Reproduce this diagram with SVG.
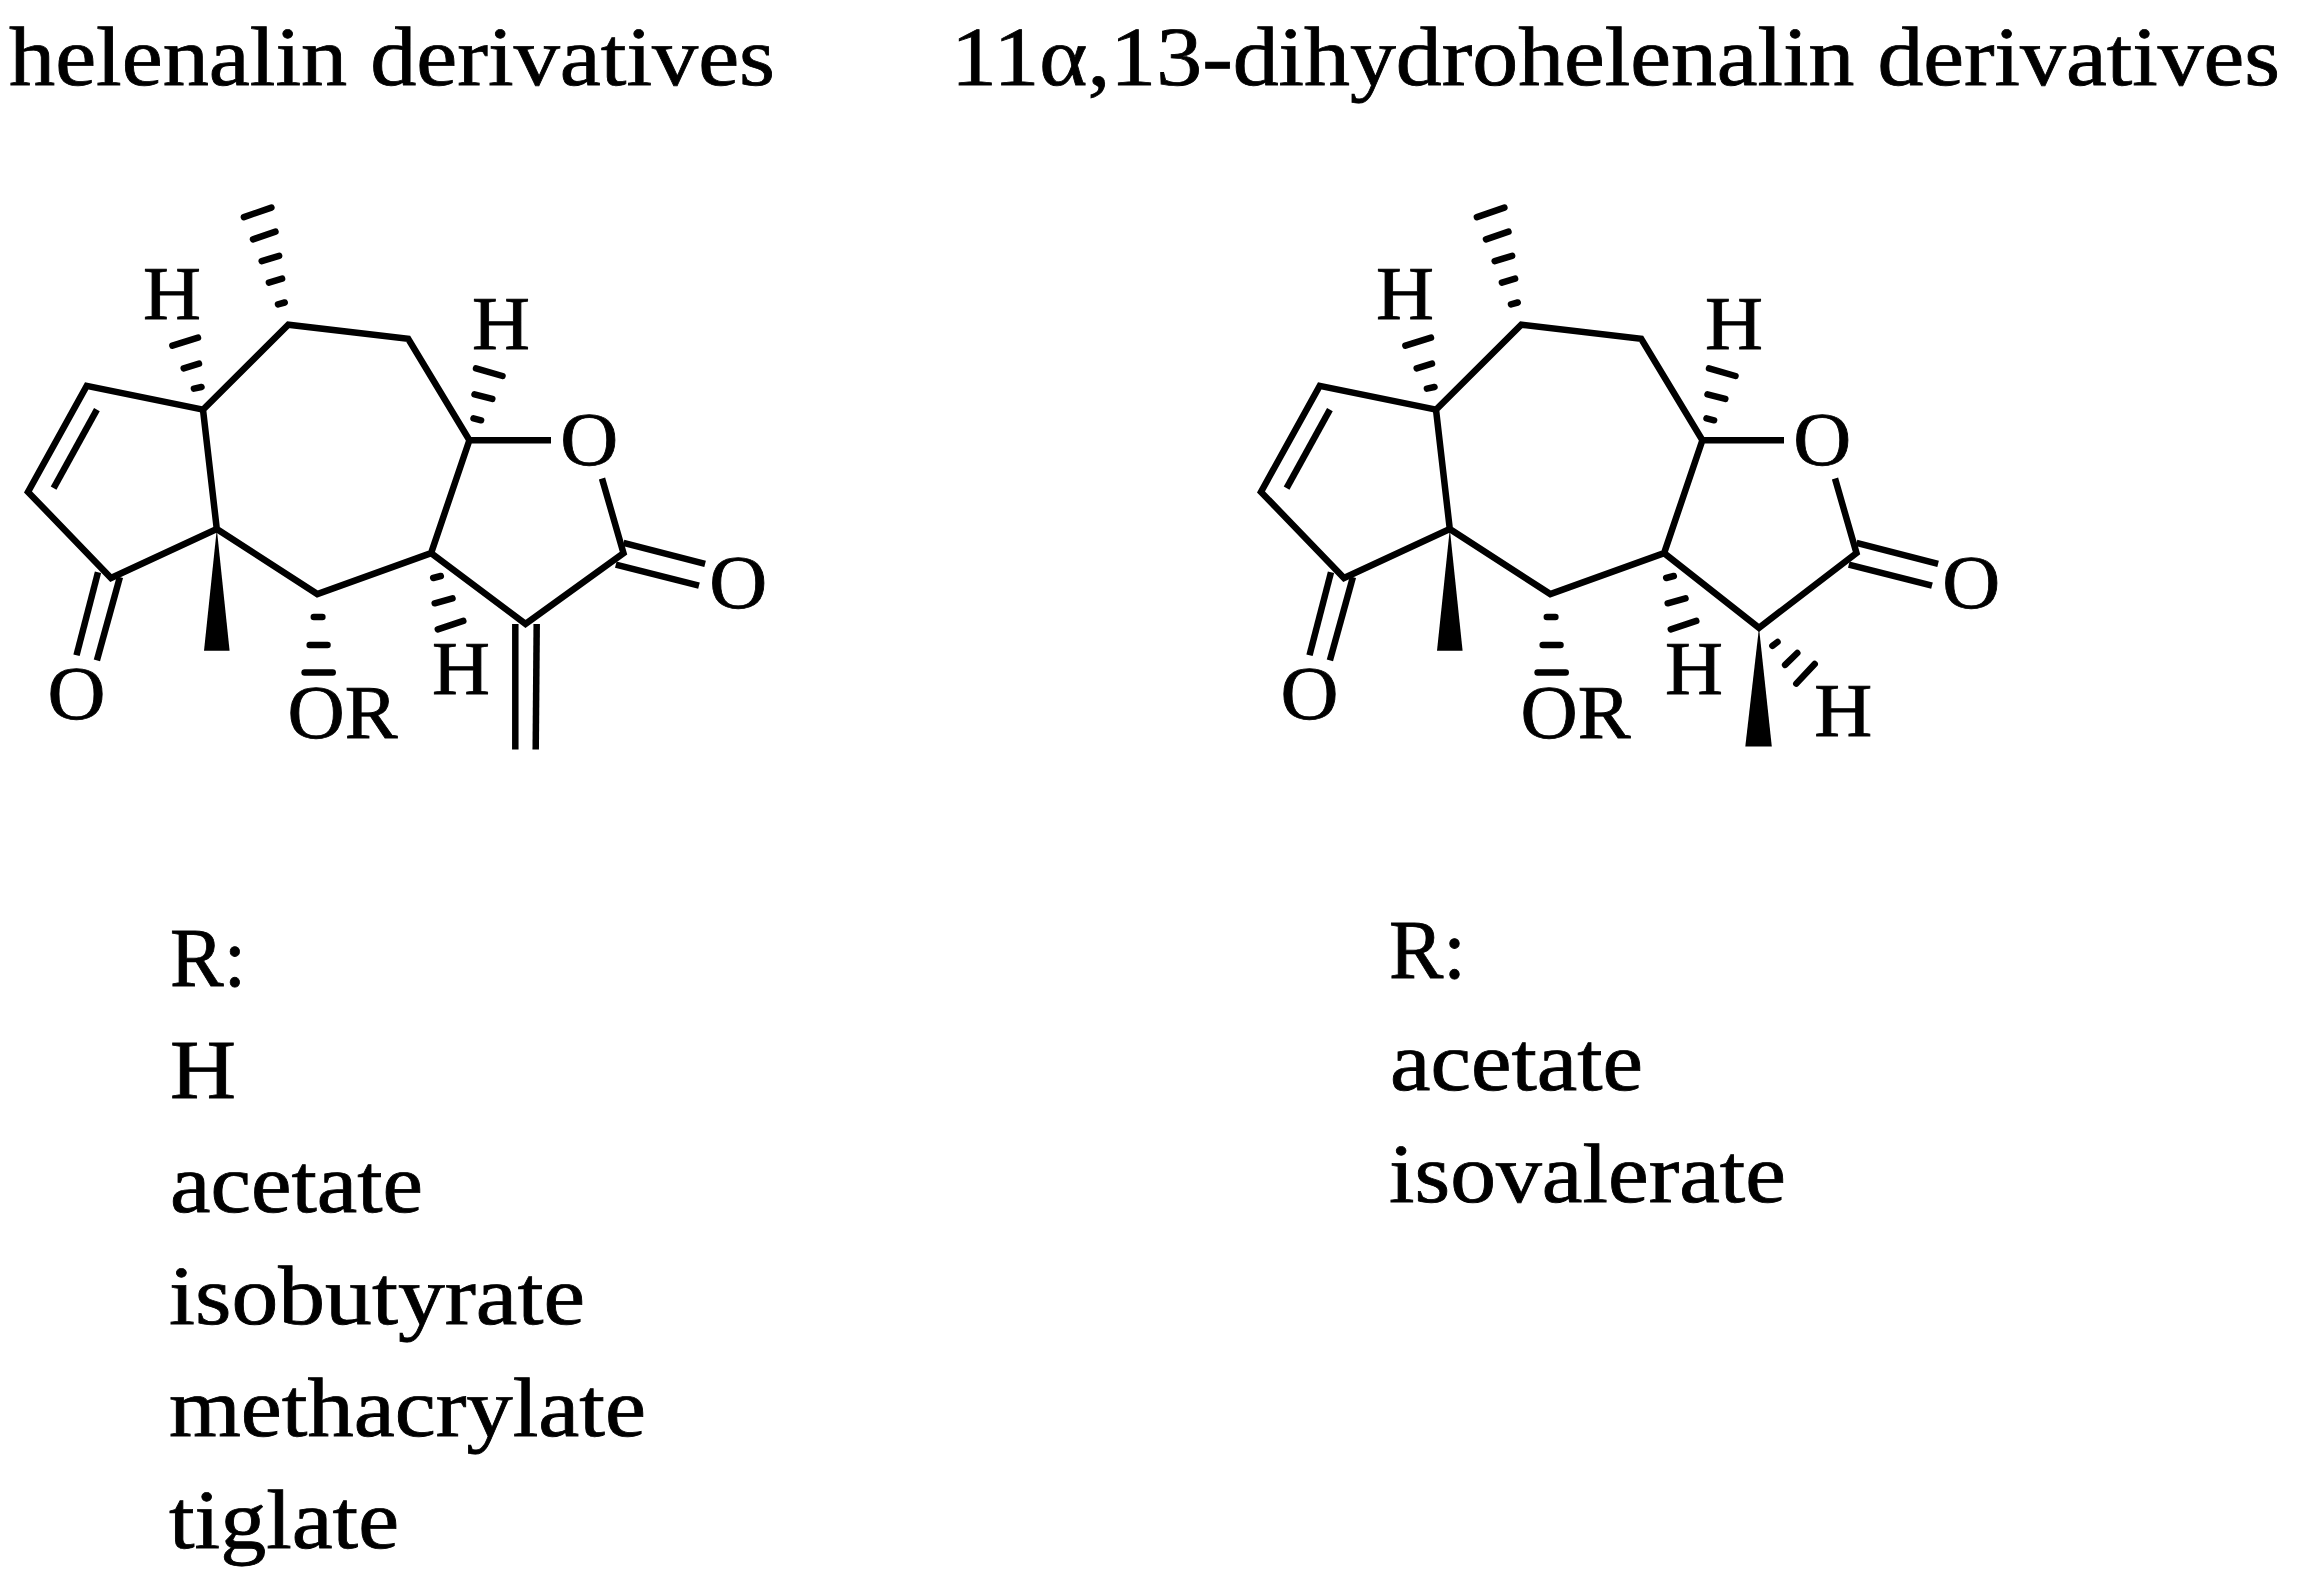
<svg xmlns="http://www.w3.org/2000/svg" width="2300" height="1591" viewBox="0 0 2300 1591">
<style>
text{font-family:"Liberation Serif","DejaVu Serif",serif;fill:#000;stroke:#000;stroke-width:.8;text-rendering:geometricPrecision}
.t{font-size:84px}
.a{font-size:76px;text-anchor:middle}
.b line,.b polyline{stroke:#000;stroke-width:6.5;fill:none;stroke-linejoin:miter}
.h line{stroke:#000;stroke-width:6.5;stroke-linecap:round}
</style>
<rect width="2300" height="1591" fill="#fff"/>
<g id="titles">
<text class="t" x="9" y="85" textLength="766" lengthAdjust="spacingAndGlyphs">helenalin derivatives</text>
<text class="t" x="951" y="85" textLength="1329" lengthAdjust="spacingAndGlyphs">11α,13-dihydrohelenalin derivatives</text>
</g>
<g id="helenalin">
<g id="helenalin-bonds" class="b">
<polyline points="551,440.2 469.4,440.2 408.2,338.8 288.3,324.7 203,409.6 216.8,529 317.3,594.1 431.1,553.1 469.4,440.2"/>
<polyline points="203,409.6 86.7,385.9 28,491.9 111,578 216.8,529"/>
<line x1="96.9" y1="409.6" x2="53.6" y2="488.1"/>
<polyline points="431.1,553.1 525.5,623.9 623.5,553.1 602,478.5"/>
<line x1="623.5" y1="542.8" x2="705.1" y2="563.8"/>
<line x1="615.8" y1="564.6" x2="699" y2="585.7"/>
<line x1="98" y1="572.3" x2="76.5" y2="655.3"/>
<line x1="119.9" y1="577.2" x2="96.9" y2="660.3"/>
<line x1="515.3" y1="624" x2="515.3" y2="749.5"/>
<line x1="536.7" y1="624" x2="535.7" y2="749.5"/>
</g>
<polygon id="helenalin-wedge" points="216.8,529 204,650.7 229.6,650.7" fill="#000"/>
<g id="helenalin-hash" class="h">
<line x1="278" y1="304.4" x2="284.7" y2="302.5"/><line x1="268.9" y1="282.6" x2="282.1" y2="278.7"/><line x1="261.7" y1="261.1" x2="279.1" y2="255.8"/><line x1="253" y1="239.3" x2="275.5" y2="231.7"/><line x1="243.9" y1="217.1" x2="271.4" y2="207.6"/>
<line x1="193.9" y1="388.6" x2="201.5" y2="387"/><line x1="183.7" y1="368.3" x2="199" y2="363.7"/><line x1="172.4" y1="345.7" x2="198" y2="337.7"/>
<line x1="473.5" y1="418.4" x2="481.1" y2="420.3"/><line x1="474.5" y1="394.3" x2="492.3" y2="398.9"/><line x1="476" y1="368.3" x2="502.5" y2="376"/>
<line x1="433.2" y1="578" x2="440.8" y2="576"/><line x1="434.7" y1="603.3" x2="452.5" y2="598.3"/><line x1="437.8" y1="629.3" x2="463.3" y2="620.9"/>
<line x1="313.8" y1="617" x2="322.4" y2="617"/><line x1="309.7" y1="645" x2="327.5" y2="645"/><line x1="304.6" y1="672.5" x2="332.7" y2="672.5"/>
</g>
<g id="helenalin-atoms">
<text class="a" x="172" y="318.5" textLength="58" lengthAdjust="spacingAndGlyphs">H</text>
<text class="a" x="501" y="349" textLength="58" lengthAdjust="spacingAndGlyphs">H</text>
<text class="a" x="461" y="694" textLength="58" lengthAdjust="spacingAndGlyphs">H</text>
<text class="a" x="589.3" y="465" textLength="58" lengthAdjust="spacingAndGlyphs">O</text>
<text class="a" x="738.3" y="608" textLength="58" lengthAdjust="spacingAndGlyphs">O</text>
<text class="a" x="76.5" y="719" textLength="58" lengthAdjust="spacingAndGlyphs">O</text>
<text class="a" x="342.5" y="738" textLength="110" lengthAdjust="spacingAndGlyphs">OR</text>
</g>
</g>
<g id="dihydrohelenalin" transform="translate(1233 0)">
<g id="dihydro-bonds" class="b">
<polyline points="551,440.2 469.4,440.2 408.2,338.8 288.3,324.7 203,409.6 216.8,529 317.3,594.1 431.1,553.1 469.4,440.2"/>
<polyline points="203,409.6 86.7,385.9 28,491.9 111,578 216.8,529"/>
<line x1="96.9" y1="409.6" x2="53.6" y2="488.1"/>
<polyline points="431.1,553.1 526,627.8 623.5,553.1 602,478.5"/>
<line x1="623.5" y1="542.8" x2="705.1" y2="563.8"/>
<line x1="615.8" y1="564.6" x2="699" y2="585.7"/>
<line x1="98" y1="572.3" x2="76.5" y2="655.3"/>
<line x1="119.9" y1="577.2" x2="96.9" y2="660.3"/>
</g>
<polygon id="dihydro-wedge-1" points="216.8,529 204,650.7 229.6,650.7" fill="#000"/>
<polygon id="dihydro-wedge-2" points="526,627.8 512.3,746.4 538.8,746.4" fill="#000"/>
<g id="dihydro-hash" class="h">
<line x1="278" y1="304.4" x2="284.7" y2="302.5"/><line x1="268.9" y1="282.6" x2="282.1" y2="278.7"/><line x1="261.7" y1="261.1" x2="279.1" y2="255.8"/><line x1="253" y1="239.3" x2="275.5" y2="231.7"/><line x1="243.9" y1="217.1" x2="271.4" y2="207.6"/>
<line x1="193.9" y1="388.6" x2="201.5" y2="387"/><line x1="183.7" y1="368.3" x2="199" y2="363.7"/><line x1="172.4" y1="345.7" x2="198" y2="337.7"/>
<line x1="473.5" y1="418.4" x2="481.1" y2="420.3"/><line x1="474.5" y1="394.3" x2="492.3" y2="398.9"/><line x1="476" y1="368.3" x2="502.5" y2="376"/>
<line x1="433.2" y1="578" x2="440.8" y2="576"/><line x1="434.7" y1="603.3" x2="452.5" y2="598.3"/><line x1="437.8" y1="629.3" x2="463.3" y2="620.9"/>
<line x1="313.8" y1="617" x2="322.4" y2="617"/><line x1="309.7" y1="645" x2="327.5" y2="645"/><line x1="304.6" y1="672.5" x2="332.7" y2="672.5"/>
<line x1="539.4" y1="645.8" x2="544.5" y2="642"/><line x1="552.1" y1="664.9" x2="564.3" y2="653"/><line x1="563.3" y1="683.6" x2="581.7" y2="664"/>
</g>
<g id="dihydro-atoms">
<text class="a" x="172" y="318.5" textLength="58" lengthAdjust="spacingAndGlyphs">H</text>
<text class="a" x="501" y="349" textLength="58" lengthAdjust="spacingAndGlyphs">H</text>
<text class="a" x="461" y="694" textLength="58" lengthAdjust="spacingAndGlyphs">H</text>
<text class="a" x="610.3" y="735.7" textLength="58" lengthAdjust="spacingAndGlyphs">H</text>
<text class="a" x="589.3" y="465" textLength="58" lengthAdjust="spacingAndGlyphs">O</text>
<text class="a" x="738.3" y="608" textLength="58" lengthAdjust="spacingAndGlyphs">O</text>
<text class="a" x="76.5" y="719" textLength="58" lengthAdjust="spacingAndGlyphs">O</text>
<text class="a" x="342.5" y="738" textLength="110" lengthAdjust="spacingAndGlyphs">OR</text>
</g>
</g>
<g id="list-left">
<text class="t" x="170" y="986" textLength="76" lengthAdjust="spacingAndGlyphs">R:</text>
<text class="t" x="170" y="1098" textLength="66" lengthAdjust="spacingAndGlyphs">H</text>
<text class="t" x="170" y="1211.5" textLength="253" lengthAdjust="spacingAndGlyphs">acetate</text>
<text class="t" x="169" y="1324" textLength="416" lengthAdjust="spacingAndGlyphs">isobutyrate</text>
<text class="t" x="169" y="1436" textLength="477" lengthAdjust="spacingAndGlyphs">methacrylate</text>
<text class="t" x="169" y="1548" textLength="230" lengthAdjust="spacingAndGlyphs">tiglate</text>
</g>
<g id="list-right">
<text class="t" x="1389" y="978" textLength="77" lengthAdjust="spacingAndGlyphs">R:</text>
<text class="t" x="1390" y="1090" textLength="253" lengthAdjust="spacingAndGlyphs">acetate</text>
<text class="t" x="1389" y="1202" textLength="397" lengthAdjust="spacingAndGlyphs">isovalerate</text>
</g>
</svg>
